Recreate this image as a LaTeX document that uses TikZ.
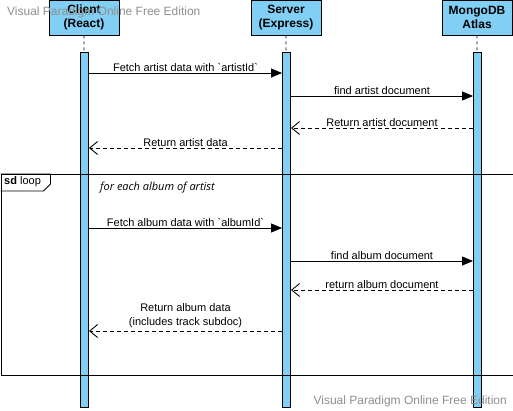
\documentclass[tikz,border=0pt]{standalone}
\usepackage{fontspec}
\setmainfont{Liberation Sans}
\newfontfamily\guardfont{Open Sans}
\usetikzlibrary{arrows.meta}
\usetikzlibrary{positioning}
\definecolor{lifeblue}{HTML}{81CFF4}
\definecolor{markgray}{HTML}{8E8E8E}
\newcommand{\tick}{\textasciigrave}
\tikzset{x=1pt, y=-1pt,
every node/.style={font=\fontsize{11}{14}\selectfont},
participant/.style={ % Header box on top of each lifeline
draw, line width=0.9pt, fill=lifeblue,
minimum width=70pt, minimum height=35pt, inner sep=0pt,
align=center, font=\fontsize{12}{14}\selectfont\bfseries},
activation/.style={ % Tall bar below each header
draw, line width=0.9pt, fill=lifeblue,
minimum width=8pt, minimum height=355pt, inner sep=0pt, anchor=north},
lifeline/.style={draw, line width=0.8pt, dash pattern=on 3pt off 3pt},
callmsg/.style={ % Synchronous call, filled head
draw, line width=0.8pt, -{Triangle[length=11pt,width=9pt]}},
replymsg/.style={ % Return message, dashed with open head
draw, line width=0.8pt, dash pattern=on 4pt off 3pt,
-{Straight Barb[length=8pt,width=13pt,line width=0.9pt]}},
msglabel/.style={fill=white, inner sep=1.5pt, text depth=0pt, anchor=base, yshift=2pt},
framebox/.style={draw, line width=0.9pt},
watermark/.style={text=markgray, inner sep=0pt, font=\fontsize{12}{14}\selectfont}}

\begin{document}
\begin{tikzpicture}
\useasboundingbox (0,0) rectangle (513,410);

% participants
\node[participant] (client) at (84,17.5) {Client\\(React)};
\node[participant] (server) at (286,17.5) {Server\\(Express)};
\node[participant] (mongo) at (477,17.5) {MongoDB\\Atlas};

\node[activation] (clientbar) at (84.5,52) {};
\node[activation] (serverbar) at (286.5,52) {};
\node[activation] (mongobar) at (477.5,52) {};

\draw[lifeline] (client) -- (clientbar);
\draw[lifeline] (server) -- (serverbar);
\draw[lifeline] (mongo) -- (mongobar);

% loop fragment
\node[framebox, minimum width=512pt, minimum height=201pt, inner sep=0pt,
  anchor=north west] (loopframe) at (0.5,174) {};
\draw[framebox] (loopframe.north west) -- ++(50,0) -- ++(0,10) -- ++(-7,7)
  -- (loopframe.west |- 0,191);
\node[anchor=west, inner sep=0pt] (looptag) at (4,182) {\textbf{sd} loop};
\node[anchor=west, inner sep=0pt, font=\guardfont\itshape\fontsize{11}{13}\selectfont]
  (guard) at (100,188) {for each album of artist};

% messages
\draw[callmsg] (clientbar.east |- 0,73) -- (serverbar.west |- 0,73)
  node[msglabel, midway] {Fetch artist data with \tick artistId\tick};
\draw[callmsg] (serverbar.east |- 0,96) -- (mongobar.west |- 0,96)
  node[msglabel, midway] {find artist document};
\draw[replymsg] (mongobar.west |- 0,128) -- (serverbar.east |- 0,128)
  node[msglabel, midway] {Return artist document};
\draw[replymsg] (serverbar.west |- 0,148) -- (clientbar.east |- 0,148)
  node[msglabel, midway] {Return artist data};

\draw[callmsg] (clientbar.east |- 0,228) -- (serverbar.west |- 0,228)
  node[msglabel, midway] {Fetch album data with \tick albumId\tick};
\draw[callmsg] (serverbar.east |- 0,261) -- (mongobar.west |- 0,261)
  node[msglabel, midway] {find album document};
\draw[replymsg] (mongobar.west |- 0,290) -- (serverbar.east |- 0,290)
  node[msglabel, midway] {return album document};
\draw[replymsg] (serverbar.west |- 0,331) -- (clientbar.east |- 0,331)
  node[midway, anchor=south, inner sep=0pt, yshift=3pt, align=center]
  {Return album data\\(includes track subdoc)};

% watermarks
\node[watermark, anchor=west] (marktop) at (7,12) {Visual Paradigm Online Free Edition};
\node[watermark, anchor=east] (markbottom) at (507,401) {Visual Paradigm Online Free Edition};
\end{tikzpicture}
\end{document}
